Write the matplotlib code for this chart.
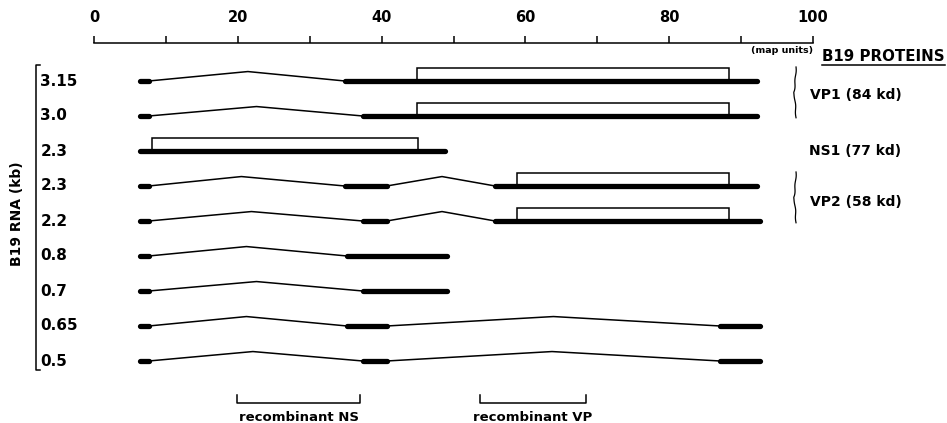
#!/usr/bin/env python3
import numpy as np
import matplotlib
matplotlib.use('Agg')
import matplotlib.pyplot as plt
from matplotlib.patches import Rectangle

plt.rcParams['font.family'] = ['DejaVu Sans']
plt.rcParams['font.weight'] = 'bold'

# B19 transcripts, top to bottom (map units)
rna_sizes = ['3.15', '3.0', '2.3', '2.3', '2.2', '0.8', '0.7', '0.65', '0.5']
exons = [
    [(6.4, 7.6), (34.9, 92.2)],
    [(6.4, 7.6), (37.4, 92.2)],
    [(6.4, 48.8)],
    [(6.4, 7.6), (34.9, 40.7), (55.8, 92.2)],
    [(6.4, 7.6), (37.4, 40.7), (55.8, 92.6)],
    [(6.4, 7.6), (35.2, 49.1)],
    [(6.4, 7.6), (37.4, 49.1)],
    [(6.4, 7.6), (35.2, 40.7), (87.1, 92.6)],
    [(6.4, 7.6), (37.4, 40.7), (87.1, 92.6)],
]
intron_peaks = [
    [21.4], [22.6], [], [20.5, 48.4], [21.9, 48.4],
    [21.2], [22.6], [21.2, 63.9], [22.1, 63.7],
]
# open reading frames (None = no box drawn)
orfs = [(44.9, 88.3), (44.9, 88.3), (8.0, 45.1), (58.8, 88.3), (58.9, 88.3),
        None, None, None, None]

proteins = ['VP1 (84 kd)', 'NS1 (77 kd)', 'VP2 (58 kd)']
protein_rows = [0.4, 2.0, 3.45]
brace_rows = [(-0.4, 1.05), (2.6, 4.05)]

recombinants = ['recombinant NS', 'recombinant VP']
recombinant_spans = [(19.9, 37.0), (53.7, 68.4)]

major_ticks = [0, 20, 40, 60, 80, 100]
minor_ticks = [10, 30, 50, 70, 90]

PX_PER_UNIT = 7.19
X0_PX = 94
ROW_PX = 35
ROW0_PX = 81
W, H = 947, 423

THICK = 3.8
THIN = 1.1
RISE = 0.27
BOX_H = 0.36


def brace(ax, x, r0, r1, amp=0.35):
    t = np.linspace(0, 1, 60)
    # thin wavy vertical bracket
    dx = amp * (np.abs(2 * t - 1) ** 0.5 - 0.6) + 0.15 * amp * np.sin(t * 6 * np.pi)
    ax.plot(x + dx, r0 + (r1 - r0) * t, color='black', lw=0.9)


fig = plt.figure(figsize=(W / 100, H / 100), dpi=100)
ax = fig.add_axes([0, 0, 1, 1])
ax.set_xlim(-X0_PX / PX_PER_UNIT, (W - X0_PX) / PX_PER_UNIT)
ax.set_ylim((H - ROW0_PX) / ROW_PX, -ROW0_PX / ROW_PX)

# top map-unit scale using the real x axis
axis_row = (43 - ROW0_PX) / ROW_PX
for s in ['left', 'right', 'bottom']:
    ax.spines[s].set_visible(False)
ax.spines['top'].set_position(('data', axis_row))
ax.spines['top'].set_bounds(0, 100)
ax.spines['top'].set_linewidth(THIN)
ax.set_xticks(major_ticks)
ax.set_xticks(minor_ticks, minor=True)
ax.set_yticks([])
ax.tick_params(axis='x', which='both', top=True, bottom=False, labeltop=True,
               labelbottom=False, direction='out', length=5, width=THIN)
ax.tick_params(axis='x', which='major', pad=8, labelsize=10.5)

ax.text(100, axis_row + 0.22, '(map units)', fontsize=6.8, ha='right', va='center')

# transcripts
for row, (ex, peaks, orf) in enumerate(zip(exons, intron_peaks, orfs)):
    for a, b in ex:
        ax.plot([a, b], [row, row], color='black', lw=THICK, solid_capstyle='round')
    for i, pk in enumerate(peaks):
        xs = [ex[i][1], pk, ex[i + 1][0]]
        ax.plot(xs, [row, row - RISE, row], color='black', lw=THIN)
    if orf is not None:
        ax.add_patch(Rectangle((orf[0], row - BOX_H), orf[1] - orf[0], BOX_H,
                               fill=False, edgecolor='black', lw=THIN))
    ax.text(-7.45, row, rna_sizes[row], fontsize=11, ha='left', va='center')

# left bracket + axis title
n = len(rna_sizes)
bx = -8.07
ax.plot([-7.5, bx, bx, -7.5], [-0.46, -0.46, n - 1 + 0.26, n - 1 + 0.26],
        color='black', lw=THIN)
ax.text(-10.7, 3.8, 'B19 RNA (kb)', rotation=90, fontsize=10,
        ha='center', va='center')

# proteins column
title = ax.text(101.3, -0.69, 'B19 PROTEINS', fontsize=10.8, ha='left', va='center')
for name, r in zip(proteins, protein_rows):
    ax.text(105.9, r, name, fontsize=10, ha='center', va='center')
for r0, r1 in brace_rows:
    brace(ax, 97.5, r0, r1)

# recombinant brackets
for name, (a, b) in zip(recombinants, recombinant_spans):
    ax.plot([a, a, b, b], [8.97, 9.2, 9.2, 8.97], color='black', lw=THIN)
    ax.text((a + b) / 2, 9.62, name, fontsize=9.5, ha='center', va='center')

# underline the proteins title
fig.canvas.draw()
bb = title.get_window_extent().transformed(ax.transData.inverted())
ax.plot([bb.x0, bb.x1], [bb.y0 + 0.03, bb.y0 + 0.03], color='black', lw=THIN)

fig.savefig('out.png', dpi=100)
